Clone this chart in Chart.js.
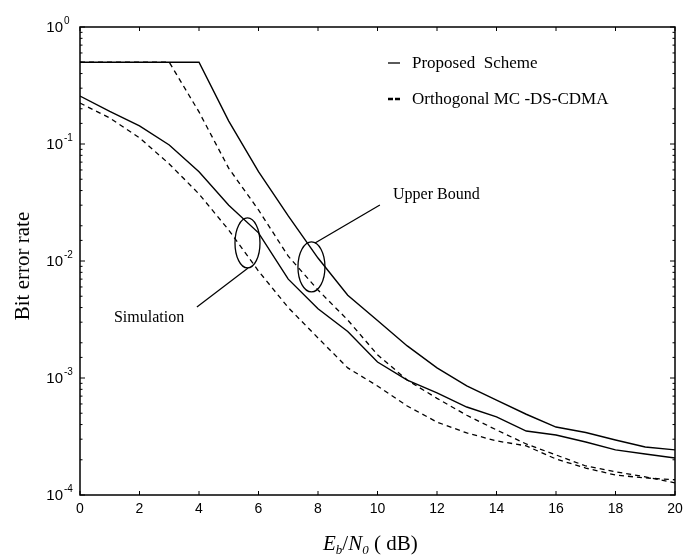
<!DOCTYPE html>
<html>
<head>
<meta charset="utf-8">
<script src="https://cdn.jsdelivr.net/npm/chart.js@4.4.1/dist/chart.umd.min.js"></script>
<style>
  body { margin: 0; background: #fff; }
</style>
</head>
<body>
<canvas id="ber" width="699" height="559"></canvas>
<script>
// Eb/N0 in dB
const snr = [0, 1, 2, 3, 4, 5, 6, 7, 8, 9, 10, 11, 12, 13, 14, 15, 16, 17, 18, 19, 20];

// upper bounds
const ubProposed = [0.5, 0.5, 0.5, 0.5, 0.5, 0.157, 0.058, 0.0243, 0.0106, 0.0051, 0.0031, 0.00188, 0.00122,
  0.000855, 0.000646, 0.00049, 0.000381, 0.000342, 0.000295, 0.000257, 0.000243];
const ubOrthogonal = [0.5, 0.5, 0.5, 0.5, 0.188, 0.062, 0.0273, 0.011, 0.00565, 0.00313, 0.00158, 0.00096, 0.00067,
  0.00048, 0.00036, 0.000273, 0.00022, 0.000177, 0.000158, 0.000143, 0.000127];

// simulation
const simProposed = [0.257, 0.19, 0.143, 0.098, 0.058, 0.030, 0.0174, 0.0070, 0.0039, 0.0025, 0.00137, 0.00096, 0.000745,
  0.000565, 0.000465, 0.000352, 0.000326, 0.000284, 0.000243, 0.000224, 0.000207];
const simOrthogonal = [0.224, 0.167, 0.113, 0.0675, 0.0374, 0.0184, 0.0082, 0.0040, 0.0022, 0.00122, 0.000855, 0.000576, 0.00042,
  0.000339, 0.00029, 0.000263, 0.000203, 0.00017, 0.000148, 0.00014, 0.000135];

const xTicks = [0, 2, 4, 6, 8, 10, 12, 14, 16, 18, 20];
const yTickExps = ['0', '-1', '-2', '-3', '-4'];
const legendItems = ['Proposed  Scheme', 'Orthogonal MC -DS-CDMA'];

const serif = '"Liberation Serif", "Times New Roman", serif';
const sans = '"Liberation Sans", Arial, sans-serif';

function pts(ys) {
  return snr.map((x, i) => ({ x: x, y: ys[i] }));
}

function line(ctx, x1, y1, x2, y2) {
  ctx.beginPath();
  ctx.moveTo(x1, y1);
  ctx.lineTo(x2, y2);
  ctx.stroke();
}

// frame, inward ticks, y labels with superscripts, titles, legend, notes
const decor = {
  id: 'decor',
  afterDatasetsDraw(chart) {
    const { ctx, chartArea: a, scales: { x, y } } = chart;
    ctx.save();
    ctx.strokeStyle = '#000';
    ctx.fillStyle = '#000';

    ctx.lineWidth = 1.5;
    ctx.strokeRect(a.left, a.top, a.right - a.left, a.bottom - a.top);

    ctx.lineWidth = 1;
    x.ticks.forEach(t => {
      const px = x.getPixelForValue(t.value);
      line(ctx, px, a.bottom, px, a.bottom - 4);
      line(ctx, px, a.top, px, a.top + 4);
    });
    y.ticks.forEach(t => {
      const py = y.getPixelForValue(t.value);
      const lg = Math.log10(t.value);
      const len = Math.abs(lg - Math.round(lg)) < 1e-6 ? 5 : 2.5;
      line(ctx, a.left, py, a.left + len, py);
      line(ctx, a.right, py, a.right - len, py);
    });

    // y tick labels 10^k
    ctx.textBaseline = 'middle';
    yTickExps.forEach(e => {
      const py = y.getPixelForValue(Math.pow(10, Number(e)));
      ctx.font = '15px ' + sans;
      ctx.textAlign = 'right';
      ctx.fillText('10', a.left - 17, py + 1);
      ctx.font = '10px ' + sans;
      ctx.textAlign = 'left';
      ctx.fillText(e, a.left - 16, py - 6);
    });

    // y title
    ctx.save();
    ctx.translate(23, 266);
    ctx.rotate(-Math.PI / 2);
    ctx.font = '21px ' + serif;
    ctx.textAlign = 'center';
    ctx.fillText('Bit error rate', 0, 0);
    ctx.restore();

    // x title: Eb/N0 (dB)
    ctx.textBaseline = 'alphabetic';
    ctx.textAlign = 'left';
    let cx = 323;
    const by = 550;
    const parts = [
      ['italic 21px ' + serif, 'E', 0],
      ['italic 13px ' + serif, 'b', 4],
      ['21px ' + serif, '/', 0],
      ['italic 21px ' + serif, 'N', 0],
      ['italic 13px ' + serif, '0', 4],
      ['21px ' + serif, ' ( dB)', 0]
    ];
    parts.forEach(p => {
      ctx.font = p[0];
      ctx.fillText(p[1], cx, by + p[2]);
      cx += ctx.measureText(p[1]).width;
    });

    // legend
    ctx.font = '17px ' + serif;
    ctx.textBaseline = 'middle';
    ctx.lineWidth = 1.3;
    line(ctx, 388, 63, 400, 63);
    ctx.fillText(legendItems[0], 412, 64);
    ctx.lineWidth = 2.5;
    line(ctx, 388, 99, 393, 99);
    line(ctx, 395, 99, 400, 99);
    ctx.fillText(legendItems[1], 412, 100);

    // annotations
    ctx.lineWidth = 1.3;
    ctx.beginPath();
    ctx.ellipse(x.getPixelForValue(5.63), y.getPixelForValue(0.01426), 12.5, 25, 0, 0, Math.PI * 2);
    ctx.stroke();
    ctx.beginPath();
    ctx.ellipse(x.getPixelForValue(7.78), y.getPixelForValue(0.0089), 13.5, 25, 0, 0, Math.PI * 2);
    ctx.stroke();
    line(ctx, x.getPixelForValue(5.65), y.getPixelForValue(0.0087), x.getPixelForValue(3.93), y.getPixelForValue(0.00404));
    line(ctx, x.getPixelForValue(7.9), y.getPixelForValue(0.01425), x.getPixelForValue(10.08), y.getPixelForValue(0.0301));
    ctx.font = '16px ' + serif;
    ctx.textAlign = 'center';
    ctx.fillText('Simulation', x.getPixelForValue(2.32), y.getPixelForValue(0.00326));
    ctx.textAlign = 'left';
    ctx.fillText('Upper Bound', x.getPixelForValue(10.52), y.getPixelForValue(0.0367));

    ctx.restore();
  }
};

const solid = { borderColor: '#000', borderWidth: 1.4, pointRadius: 0, tension: 0, fill: false };
const dashed = { borderColor: '#000', borderWidth: 1.3, borderDash: [5, 4], pointRadius: 0, tension: 0, fill: false };

new Chart(document.getElementById('ber'), {
  type: 'line',
  data: {
    datasets: [
      Object.assign({ label: 'Proposed Scheme (upper bound)', data: pts(ubProposed) }, solid),
      Object.assign({ label: 'Orthogonal MC-DS-CDMA (upper bound)', data: pts(ubOrthogonal) }, dashed),
      Object.assign({ label: 'Proposed Scheme (simulation)', data: pts(simProposed) }, solid),
      Object.assign({ label: 'Orthogonal MC-DS-CDMA (simulation)', data: pts(simOrthogonal) }, dashed)
    ]
  },
  options: {
    responsive: false,
    animation: false,
    layout: { padding: { left: 0, right: 24, top: 27, bottom: 0 } },
    plugins: { legend: { display: false }, tooltip: { enabled: false } },
    scales: {
      x: {
        type: 'linear',
        min: 0,
        max: 20,
        afterBuildTicks: s => { s.ticks = xTicks.map(v => ({ value: v })); },
        ticks: { color: '#000', font: { family: sans, size: 14 }, padding: 6, maxRotation: 0 },
        grid: { display: false, drawTicks: false },
        border: { display: false },
        afterFit: s => { s.height = 64; }
      },
      y: {
        type: 'logarithmic',
        min: 1e-4,
        max: 1,
        ticks: { display: false },
        grid: { display: false, drawTicks: false },
        border: { display: false },
        afterFit: s => { s.width = 80; }
      }
    }
  },
  plugins: [decor]
});
</script>
</body>
</html>
